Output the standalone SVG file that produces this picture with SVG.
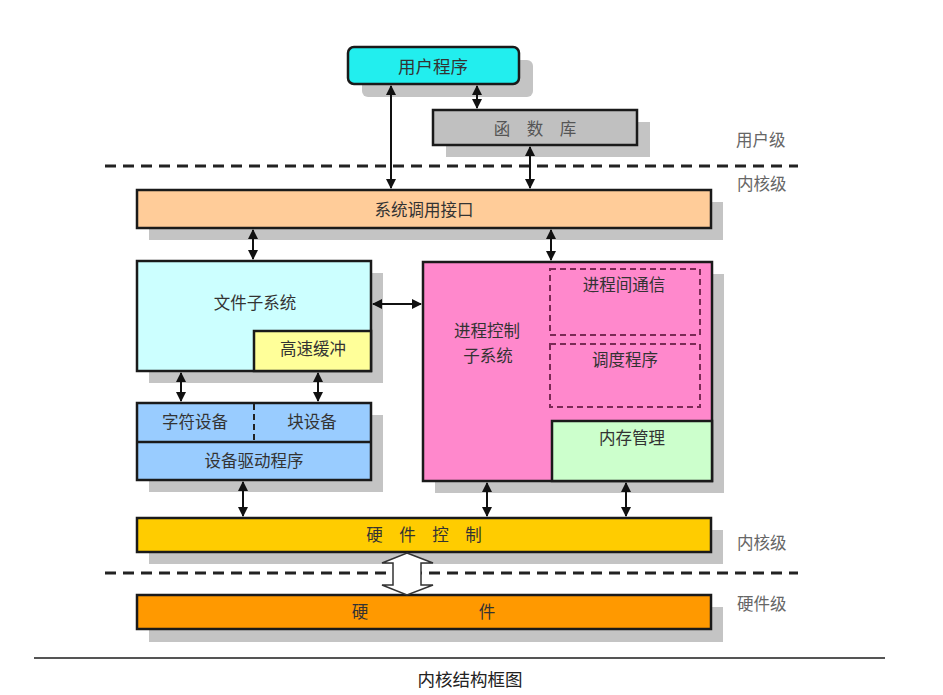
<svg xmlns="http://www.w3.org/2000/svg" width="943" height="695" viewBox="0 0 943 695">
<style>
.sh{fill:#c4c4c4}
.bx{stroke:#1a1a1a;stroke-width:2.5}
.t{font-family:"Noto Sans CJK SC","Liberation Serif",serif;font-size:16.5px;fill:#333;text-anchor:middle;dominant-baseline:central}
.lb{font-family:"Noto Sans CJK SC","Liberation Serif",serif;font-size:16.5px;fill:#666;dominant-baseline:central}
.dl{stroke:#222;stroke-width:3;stroke-dasharray:11 7;fill:none}
.ib{fill:none;stroke:#7a2a55;stroke-width:2;stroke-dasharray:6 4}
.ar{stroke:#111;stroke-width:2;fill:none;marker-start:url(#ah);marker-end:url(#ah)}
</style>
<defs>
<marker id="ah" viewBox="0 0 10 10" refX="9" refY="5" markerWidth="5" markerHeight="5" orient="auto-start-reverse">
<path d="M0,0 L10,5 L0,10 z" fill="#111"/>
</marker>
</defs>
<rect width="943" height="695" fill="#fff"/>
<line class="dl" x1="105" y1="166" x2="798" y2="166"/>
<line class="dl" x1="105" y1="573" x2="798" y2="573"/>
<line x1="34" y1="658" x2="885" y2="658" stroke="#555" stroke-width="2"/>
<g id="user-prog">
<rect class="sh" x="362" y="60" width="171" height="37" rx="6"/>
<rect class="bx" x="348" y="47" width="171" height="37" rx="6" fill="#22eeee"/>
<text class="t" x="433" y="65" style="font-size:17.5px">用户程序</text>
</g>
<g id="lib">
<rect class="sh" x="446" y="122" width="204" height="35"/>
<rect class="bx" x="433" y="110" width="204" height="35" fill="#c0c0c0"/>
<text class="t" x="535" y="128" style="fill:#555">函　数　库</text>
</g>
<g id="syscall">
<rect class="sh" x="149" y="202" width="574" height="38"/>
<rect class="bx" x="137" y="190" width="574" height="38" fill="#ffcc99"/>
<text class="t" x="424" y="209">系统调用接口</text>
</g>
<g id="filesys">
<rect class="sh" x="149" y="273" width="234" height="110"/>
<rect class="bx" x="137" y="261" width="234" height="110" fill="#ccffff"/>
<text class="t" x="255" y="302">文件子系统</text>
</g>
<g id="cache">
<rect class="bx" x="254" y="331" width="117" height="40" fill="#ffff99"/>
<text class="t" x="313" y="348">高速缓冲</text>
</g>
<g id="device">
<rect class="sh" x="149" y="415" width="234" height="77"/>
<rect class="bx" x="137" y="403" width="234" height="77" fill="#99ccff"/>
<line x1="137" y1="442" x2="371" y2="442" stroke="#1a1a1a" stroke-width="2.5"/>
<line x1="254" y1="404" x2="254" y2="441" stroke="#222" stroke-width="2" stroke-dasharray="6 4"/>
<text class="t" x="195" y="421">字符设备</text>
<text class="t" x="312" y="421">块设备</text>
<text class="t" x="254" y="460">设备驱动程序</text>
</g>
<g id="proc">
<rect class="sh" x="435" y="274" width="289" height="219"/>
<rect class="bx" x="423" y="262" width="289" height="219" fill="#ff88cc"/>
<text class="t" x="487" y="330">进程控制</text>
<text class="t" x="488" y="355">子系统</text>
</g>
<g id="ipc">
<rect class="ib" x="550" y="269" width="150" height="66"/>
<text class="t" x="624" y="284">进程间通信</text>
</g>
<g id="sched">
<rect class="ib" x="550" y="344" width="150" height="63"/>
<text class="t" x="625" y="359">调度程序</text>
</g>
<g id="mem">
<rect class="bx" x="552" y="421" width="160" height="60" fill="#ccffcc"/>
<text class="t" x="632" y="437">内存管理</text>
</g>
<g id="hwctrl">
<rect class="sh" x="149" y="530" width="574" height="34"/>
<rect class="bx" x="137" y="518" width="574" height="34" fill="#ffcc00"/>
<text class="t" x="424" y="534">硬　件　控　制</text>
</g>
<g id="hw">
<rect class="sh" x="149" y="607" width="574" height="35"/>
<rect class="bx" x="137" y="595" width="574" height="34" fill="#ff9900"/>
<text class="t" x="360" y="611">硬</text>
<text class="t" x="487" y="611">件</text>
</g>
<g id="connectors">
<line class="ar" x1="391" y1="86" x2="391" y2="188"/>
<line class="ar" x1="477" y1="86" x2="477" y2="108"/>
<line class="ar" x1="530" y1="147" x2="530" y2="188"/>
<line class="ar" x1="253" y1="230" x2="253" y2="259"/>
<line class="ar" x1="551" y1="230" x2="551" y2="260"/>
<line class="ar" x1="373" y1="304" x2="421" y2="304"/>
<line class="ar" x1="181" y1="373" x2="181" y2="401"/>
<line class="ar" x1="318" y1="373" x2="318" y2="401"/>
<line class="ar" x1="243" y1="482" x2="243" y2="516"/>
<line class="ar" x1="487" y1="483" x2="487" y2="516"/>
<line class="ar" x1="626" y1="483" x2="626" y2="516"/>
<polygon points="407,553 433,563 421,563 421,585 433,585 407,595 382,585 393,585 393,563 382,563" fill="#fff" stroke="#333" stroke-width="1.5"/>
</g>
<g id="labels">
<text class="lb" x="736" y="139">用户级</text>
<text class="lb" x="737" y="183">内核级</text>
<text class="lb" x="737" y="542">内核级</text>
<text class="lb" x="737" y="603">硬件级</text>
<text class="t" x="470" y="678" style="font-size:17.5px;fill:#222">内核结构框图</text>
</g>
</svg>
